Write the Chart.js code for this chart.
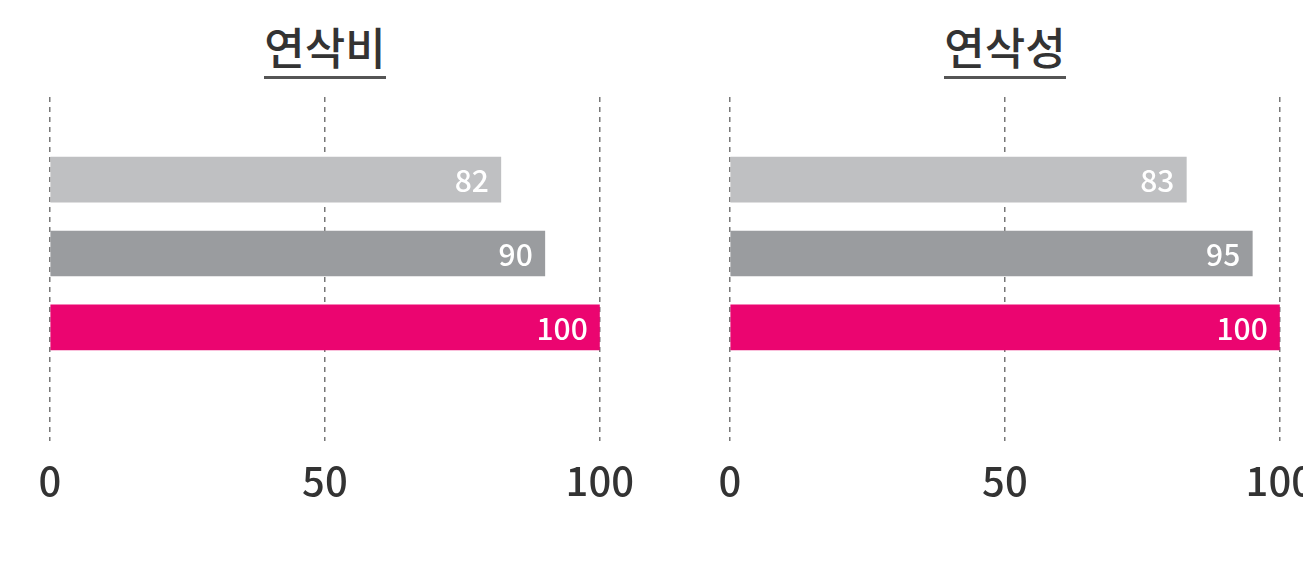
<!DOCTYPE html>
<html>
<head>
<meta charset="utf-8">
<script src="https://cdn.jsdelivr.net/npm/chart.js@4"></script>
<style>
  html, body { margin: 0; padding: 0; background: #fff; overflow: hidden; width: 1303px; height: 583px; }
  .panel { position: absolute; top: 0; width: 650px; height: 583px; }
  .panel canvas { position: absolute; left: 0; top: 0; }
  .title {
    position: absolute; left: 0; width: 650px; top: 24px; text-align: center;
    font-family: "Noto Sans CJK KR", sans-serif; font-size: 44px; font-weight: 500; color: #333;
    line-height: 1;
  }
  .title span { display: inline-block; padding-bottom: 8px; border-bottom: 3px solid #555; }
</style>
</head>
<body>
<div class="panel" style="left:0"><div class="title"><span id="t0"></span></div><canvas id="chart0" width="650" height="583"></canvas></div>
<div class="panel" style="left:680px"><div class="title"><span id="t1"></span></div><canvas id="chart1" width="650" height="583"></canvas></div>
<script>
// Panels
const categories = ['연삭비', '연삭성'];
// Bar values per panel (top, middle, bottom bar)
const lightGrayValues = [82, 83];
const darkGrayValues = [90, 95];
const pinkValues = [100, 100];
const xTicks = [0, 50, 100];
const barColors = ['#bfc0c2', '#9a9c9f', '#eb0570'];

// value labels inside the bars
const valueLabels = {
    id: 'valueLabels',
    afterDatasetsDraw(chart) {
        const ctx = chart.ctx;
        const meta = chart.getDatasetMeta(0);
        ctx.save();
        ctx.font = '500 30px "Noto Sans CJK KR", sans-serif';
        ctx.fillStyle = '#ffffff';
        ctx.textAlign = 'right';
        ctx.textBaseline = 'middle';
        meta.data.forEach((bar, i) => {
            const v = chart.data.datasets[0].data[i].x;
            ctx.fillText(String(v), bar.x - 12, bar.y + 1);
        });
        ctx.restore();
    }
};

function makeChart(idx) {
    document.getElementById('t' + idx).textContent = categories[idx];
    const values = [lightGrayValues[idx], darkGrayValues[idx], pinkValues[idx]];
    const ctx = document.getElementById('chart' + idx).getContext('2d');
    return new Chart(ctx, {
        type: 'bar',
        data: {
            datasets: [{
                data: values.map((v, i) => ({ x: v, y: i })),
                backgroundColor: barColors,
                borderWidth: 0,
                barThickness: 45
            }]
        },
        options: {
            indexAxis: 'y',
            responsive: false,
            animation: false,
            layout: { padding: { left: 50, right: 50, top: 97, bottom: 62 } },
            plugins: {
                legend: { display: false },
                tooltip: { enabled: false }
            },
            scales: {
                x: {
                    type: 'linear',
                    min: 0,
                    max: 100,
                    afterBuildTicks(axis) {
                        axis.ticks = xTicks.map(v => ({ value: v }));
                    },
                    grid: {
                        color: '#777',
                        lineWidth: 1.5,
                        drawTicks: false
                    },
                    border: { display: false, dash: [5, 5] },
                    ticks: {
                        color: '#333',
                        padding: 16,
                        maxRotation: 0,
                        font: { family: '"Noto Sans CJK KR", sans-serif', size: 40, weight: '500' }
                    }
                },
                y: {
                    type: 'linear',
                    display: false,
                    offset: false,
                    reverse: true,
                    min: -1.12,
                    max: 3.54
                }
            }
        },
        plugins: [valueLabels]
    });
}

makeChart(0);
makeChart(1);
</script>
</body>
</html>
